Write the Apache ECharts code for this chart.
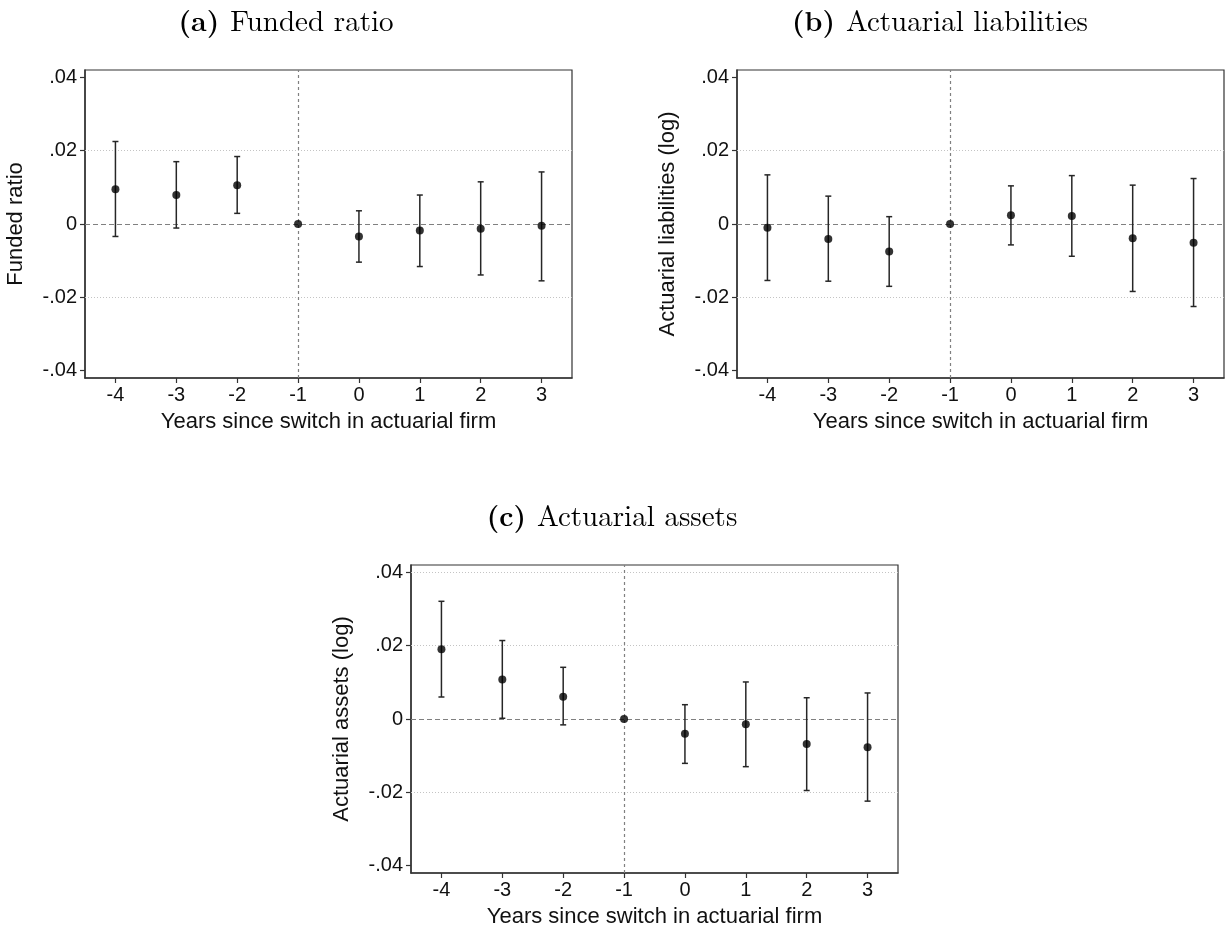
<!DOCTYPE html>
<html>
<head>
<meta charset="utf-8">
<script src="https://cdn.jsdelivr.net/npm/echarts@6/dist/echarts.min.js"></script>
<style>
  html, body { margin: 0; padding: 0; background: #fff; }
  #chart { width: 1225px; height: 930px; }
</style>
</head>
<body>
<div id="chart"></div>
<script>
// Event-time categories (years relative to the actuarial firm switch)
const years = ['-4', '-3', '-2', '-1', '0', '1', '2', '3'];
const refYear = '-1';

// y-axis tick values shared by all three panels
const yTicks = [-0.04, -0.02, 0, 0.02, 0.04];

// (a) Funded ratio: point estimates and 95% CI bounds
const fundedCoef = [0.0095, 0.0079, 0.0106, 0, -0.0034, -0.0018, -0.0013, -0.0005];
const fundedLo   = [-0.0034, -0.0011, 0.0029, 0, -0.0104, -0.0116, -0.0139, -0.0155];
const fundedHi   = [0.0225, 0.0170, 0.0184, 0, 0.0036, 0.0079, 0.0115, 0.0142];

// (b) Actuarial liabilities (log)
const liabCoef = [-0.0010, -0.0041, -0.0075, 0, 0.0024, 0.0022, -0.0039, -0.0051];
const liabLo   = [-0.0154, -0.0156, -0.0170, 0, -0.0057, -0.0088, -0.0184, -0.0225];
const liabHi   = [0.0134, 0.0076, 0.0020, 0, 0.0104, 0.0132, 0.0106, 0.0124];

// (c) Actuarial assets (log)
const assetCoef = [0.0190, 0.0108, 0.0061, 0, -0.0040, -0.0014, -0.0068, -0.0077];
const assetLo   = [0.0060, 0.0002, -0.0016, 0, -0.0121, -0.0130, -0.0195, -0.0224];
const assetHi   = [0.0321, 0.0214, 0.0141, 0, 0.0039, 0.0101, 0.0058, 0.0071];

const panels = [
  { letter: '(a)', title: 'Funded ratio', yName: 'Funded ratio',
    coef: fundedCoef, lo: fundedLo, hi: fundedHi, grid: [0.02, -0.02],
    box: { left: 85, top: 70 }, titlePos: { x: 281, y: 20 } },
  { letter: '(b)', title: 'Actuarial liabilities', yName: 'Actuarial liabilities (log)',
    coef: liabCoef, lo: liabLo, hi: liabHi, grid: [0.02, -0.02],
    box: { left: 737, top: 70 }, titlePos: { x: 935, y: 20 } },
  { letter: '(c)', title: 'Actuarial assets', yName: 'Actuarial assets (log)',
    coef: assetCoef, lo: assetLo, hi: assetHi, grid: [0.04, 0.02, -0.02],
    box: { left: 411, top: 565 }, titlePos: { x: 607, y: 515 } }
];

const BOX_W = 487, BOX_H = 308;
const SANS = '"Liberation Sans", Arial, sans-serif';
const SERIF = '"Latin Modern Roman", "DejaVu Serif", "Liberation Serif", serif';
const AXIS_COLOR = '#333';
const TEXT_COLOR = '#111';

function fmtTick(v) {
  if (Math.abs(v) < 1e-12) return '0';
  const s = Math.abs(v).toFixed(2).replace(/^0/, '');
  return (v < 0 ? '-' : '') + s;
}

const option = {
  animation: false,
  backgroundColor: '#fff',
  title: panels.map(p => ({
    text: '{b|' + p.letter + '}{n|' + p.title + '}',
    left: p.titlePos.x, top: p.titlePos.y - 17,
    textAlign: 'center',
    textStyle: {
      rich: {
        b: { fontFamily: SERIF, fontWeight: 'bold', fontSize: 28, color: '#000', padding: [0, 11, 0, 0] },
        n: { fontFamily: SERIF, fontWeight: 'normal', fontSize: 29, color: '#000' }
      }
    }
  })),
  grid: panels.map(p => ({
    left: p.box.left, top: p.box.top, width: BOX_W, height: BOX_H,
    show: true, borderColor: AXIS_COLOR, borderWidth: 1.2, backgroundColor: '#fff'
  })),
  xAxis: panels.map((p, i) => ({
    type: 'category', gridIndex: i, data: years, boundaryGap: true,
    name: 'Years since switch in actuarial firm',
    nameLocation: 'middle', nameGap: 33,
    nameTextStyle: { fontFamily: SANS, fontSize: 22, color: TEXT_COLOR },
    axisLine: { show: true, onZero: false, lineStyle: { color: AXIS_COLOR, width: 1.5 } },
    axisTick: { show: true, alignWithLabel: true, length: 5, lineStyle: { color: AXIS_COLOR, width: 1.2 } },
    axisLabel: { fontFamily: SANS, fontSize: 20, color: TEXT_COLOR, margin: 7 },
    splitLine: { show: false }
  })),
  yAxis: panels.map((p, i) => ({
    type: 'value', gridIndex: i, min: -0.042, max: 0.042,
    name: p.yName, nameLocation: 'middle', nameGap: 58, nameRotate: 90,
    nameTextStyle: { fontFamily: SANS, fontSize: 22, color: TEXT_COLOR },
    axisLine: { show: true, onZero: false, lineStyle: { color: AXIS_COLOR, width: 1.5 } },
    axisTick: { show: true, length: 5, customValues: yTicks, lineStyle: { color: AXIS_COLOR, width: 1.2 } },
    axisLabel: { fontFamily: SANS, fontSize: 20, color: TEXT_COLOR, margin: 8,
      customValues: yTicks, formatter: v => fmtTick(v) },
    splitLine: { show: false }
  })),
  series: []
};

panels.forEach((p, i) => {
  // Confidence intervals as capped vertical bars
  option.series.push({
    type: 'custom', xAxisIndex: i, yAxisIndex: i, z: 3,
    data: years.map((y, k) => [k, p.lo[k], p.hi[k]]),
    encode: { x: 0, y: [1, 2] },
    renderItem: (params, api) => {
      const x = api.value(0), lo = api.value(1), hi = api.value(2);
      if (lo === hi) return null;
      const top = api.coord([x, hi]);
      const bot = api.coord([x, lo]);
      const hw = 3;
      const st = { stroke: '#262626', lineWidth: 1.5 };
      return {
        type: 'group',
        children: [
          { type: 'line', shape: { x1: top[0], y1: top[1], x2: bot[0], y2: bot[1] }, style: st },
          { type: 'line', shape: { x1: top[0] - hw, y1: top[1], x2: top[0] + hw, y2: top[1] }, style: st },
          { type: 'line', shape: { x1: bot[0] - hw, y1: bot[1], x2: bot[0] + hw, y2: bot[1] }, style: st }
        ]
      };
    }
  });
  // Point estimates, plus reference lines
  option.series.push({
    type: 'scatter', xAxisIndex: i, yAxisIndex: i, z: 4,
    data: p.coef,
    symbol: 'circle', symbolSize: 8,
    itemStyle: { color: '#000' },
    markLine: {
      silent: true, symbol: 'none', animation: false, z: 1,
      label: { show: false },
      data: [
        ...p.grid.map(v => ({ yAxis: v, lineStyle: { color: '#c4c4c4', type: [1, 2], width: 1 } })),
        { yAxis: 0, lineStyle: { color: '#808080', type: [5, 3], width: 1.2 } },
        { xAxis: refYear, lineStyle: { color: '#808080', type: [3, 3], width: 1.2 } }
      ]
    }
  });
});

const chart = echarts.init(document.getElementById('chart'), null, { renderer: 'canvas' });
chart.setOption(option);
</script>
</body>
</html>
